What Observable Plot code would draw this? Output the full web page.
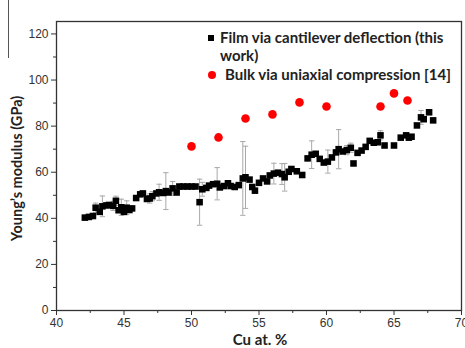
<!DOCTYPE html>
<html><head><meta charset="utf-8">
<script src="https://cdn.jsdelivr.net/npm/d3@7"></script>
<script src="https://cdn.jsdelivr.net/npm/@observablehq/plot@0.6"></script>
<style>
body{margin:0;background:#fff;}
#wrap{position:relative;width:465px;height:348px;overflow:hidden;background:#fff;}
#wrap svg{position:absolute;left:0;top:0;}
.lbl{position:absolute;font-family:Lato,"Open Sans",sans-serif;font-weight:bold;color:#222;white-space:nowrap;}
</style></head>
<body><div id="wrap"></div>
<script>
const filmX = [42.1,42.4,42.7,42.9,43.2,43.4,43.7,43.9,44.2,44.4,44.6,44.8,45.0,45.2,45.4,45.6,45.9,46.2,46.4,46.7,46.9,47.1,47.4,47.6,47.9,48.1,48.3,48.6,48.9,49.1,49.4,49.7,50.0,50.3,50.6,50.8,51.1,51.3,51.6,51.9,52.1,52.4,52.7,52.9,53.2,53.5,53.8,54.0,54.3,54.5,54.7,55.0,55.3,55.6,55.8,56.1,56.4,56.7,56.9,57.2,57.4,57.8,58.2,58.6,58.9,59.2,59.5,59.8,60.1,60.4,60.7,60.9,61.2,61.5,61.8,62.0,62.3,62.6,62.9,63.2,63.5,63.8,64.0,64.3,65.0,65.5,65.9,66.1,66.3,66.7,67.0,67.2,67.6,67.9];
const filmY = [40.3,40.6,41.0,44.6,42.8,45.2,45.6,45.8,45.4,47.6,43.5,44.8,42.8,44.6,43.6,44.3,48.8,50.4,50.8,48.4,48.6,49.6,50.8,51.3,51.0,51.8,51.2,53.0,51.2,53.8,53.8,53.8,53.8,53.8,47.0,52.6,53.2,54.2,54.8,55.0,53.4,54.0,55.2,54.0,53.6,54.4,57.3,57.8,56.8,53.6,52.0,55.4,57.3,56.0,58.6,59.4,59.8,59.2,57.8,60.2,61.4,60.4,58.8,66.0,67.6,68.0,65.8,64.2,64.6,66.4,68.6,70.0,69.0,69.6,70.6,63.8,68.4,69.4,71.0,73.6,72.8,73.0,76.0,71.6,71.6,75.0,76.0,75.0,75.4,80.3,83.8,83.0,86.0,82.5];
const filmErr = [0,0,0,2,0,4.5,0,0,2,2,0,3.5,0,3,0,0,0,0,0,0,2,2,0,3.5,0,8,0,3,0,0,0,0,0,0,10,3,0,0,0,7,0,0,0,0,0,0,16,13.5,0,0,0,0,0,0,0,4.5,0,4.5,6,0,0,0,0,0,6,0,0,0,5,0,0,8.5,0,2,2,0,0,0,0,0,0,0,2,0,0,0,0,0,0,0,3,0,0,0];
const bulkX = [50,52,54,56,58,60,64,65,66];
const bulkY = [71.2,75.1,83.3,85.1,90.3,88.5,88.5,94.2,91.1];
const yMajor = [0,20,40,60,80,100,120];
const yMinor = [10,30,50,70,90,110];
const xMajor = [40,45,50,55,60,65,70];
const xMinor = [42.5,47.5,52.5,57.5,62.5,67.5];

const film = filmX.map((x,i)=>({x, y: filmY[i], e: filmErr[i]}));
const errs = film.filter(d=>d.e>0);
const bulk = bulkX.map((x,i)=>({x, y: bulkY[i]}));
const capW = 0.2;

const chart = Plot.plot({
  width: 465, height: 348,
  marginLeft: 56, marginRight: 4, marginTop: 21, marginBottom: 38,
  style: {fontFamily: "'Liberation Sans', Arial, sans-serif", fontSize: "12px", color: "#333", background: "#fff"},
  x: {domain: [40, 70]},
  y: {domain: [0, 125.4]},
  marks: [
    Plot.ruleX(errs, {x: "x", y1: d=>d.y-d.e, y2: d=>d.y+d.e, stroke: "#a8a8a8", strokeWidth: 1}),
    Plot.link(errs, {x1: d=>d.x-capW, x2: d=>d.x+capW, y1: d=>d.y+d.e, y2: d=>d.y+d.e, stroke: "#a8a8a8", strokeWidth: 1}),
    Plot.link(errs, {x1: d=>d.x-capW, x2: d=>d.x+capW, y1: d=>d.y-d.e, y2: d=>d.y-d.e, stroke: "#a8a8a8", strokeWidth: 1}),
    Plot.dot(film, {x: "x", y: "y", symbol: "square", r: 3.7, fill: "#000", stroke: "none"}),
    Plot.dot(bulk, {x: "x", y: "y", r: 4.3, fill: "#ff0000", stroke: "none"}),
    Plot.axisY(yMajor, {tickSize: 5, tickPadding: 3, label: null, stroke: "#333", fill: "#333"}),
    Plot.axisY(yMinor, {tickSize: 3, text: null, label: null, stroke: "#333"}),
    Plot.axisX(xMajor, {tickSize: 5, tickPadding: 3, label: null, stroke: "#333", fill: "#333"}),
    Plot.axisX(xMinor, {tickSize: 3, text: null, label: null, stroke: "#333"}),
    Plot.frame({stroke: "#333", strokeWidth: 1.3})
  ]
});
const wrap = document.getElementById("wrap");
wrap.appendChild(chart);

function addLabel(html, css){
  const d = document.createElement("div");
  d.className = "lbl"; d.innerHTML = html; Object.assign(d.style, css); wrap.appendChild(d); return d;
}
// axis titles
addLabel("Cu at. %", {left: "0px", width: "520px", textAlign: "center", top: "330px", fontSize: "15px"});
addLabel("Young’s modulus (GPa)", {left: "-64px", top: "160px", width: "160px", textAlign: "center", fontSize: "14.5px", transform: "rotate(-90deg)"});
// legend
addLabel("<span style='display:inline-block;width:6px;height:6px;background:#000;margin-right:6px;vertical-align:middle;position:relative;top:-1px'></span>Film via cantilever deflection (this", {left: "208px", top: "28px", fontSize: "15px"});
addLabel("work)", {left: "220px", top: "46px", fontSize: "15px"});
addLabel("<span style='display:inline-block;width:8px;height:8px;border-radius:50%;background:#ff0000;margin-right:9px;vertical-align:middle;position:relative;top:-1px'></span>Bulk via uniaxial compression [14]", {left: "208px", top: "65px", fontSize: "15px"});
// left border fragment
const ln = document.createElement("div");
Object.assign(ln.style, {position: "absolute", left: "8px", top: "0px", width: "1px", height: "58px", background: "#555"});
wrap.appendChild(ln);
</script></body></html>
